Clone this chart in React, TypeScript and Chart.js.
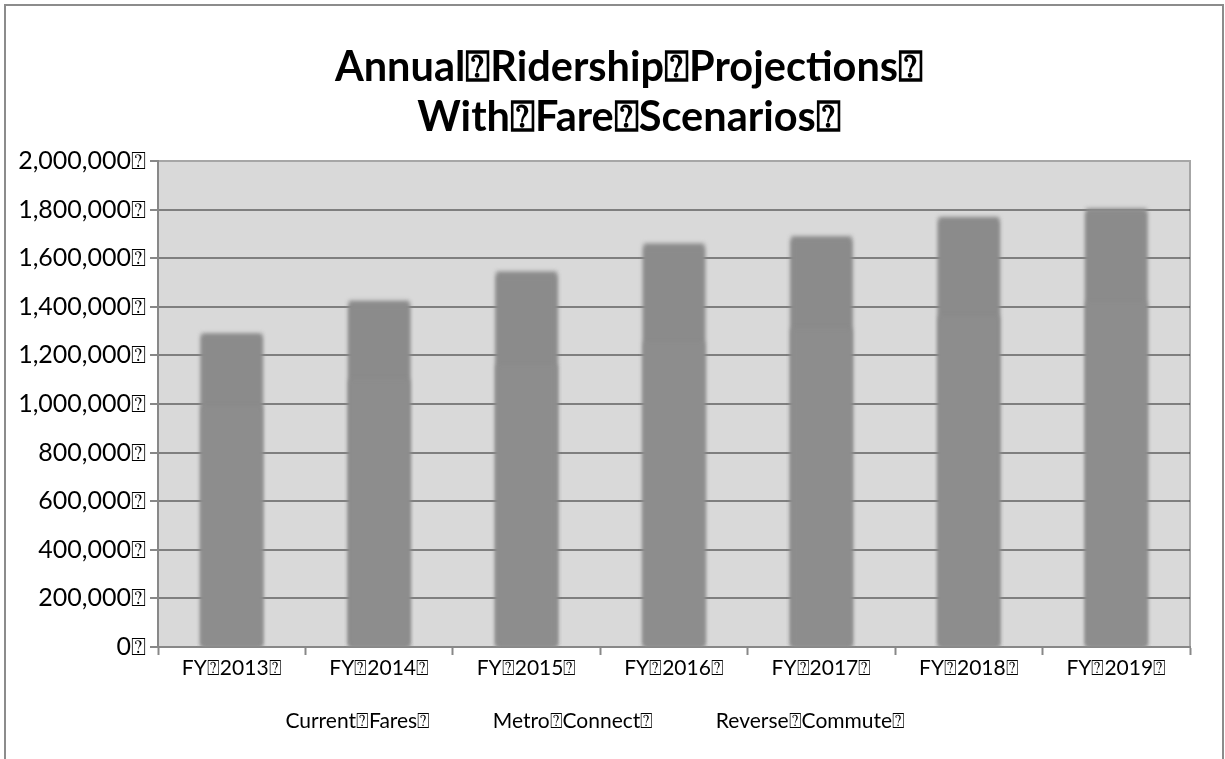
import { useEffect, useRef } from 'react';
import { Chart, registerables } from 'chart.js';

Chart.register(...registerables);

// Fiscal years on the category axis
const years = ['FY 2013', 'FY 2014', 'FY 2015', 'FY 2016', 'FY 2017', 'FY 2018', 'FY 2019'];

// Scenario names (legend order)
const seriesNames = ['Current Fares', 'Metro Connect', 'Reverse Commute'];

// Annual riders per scenario
const currentFares = [990000, 1100000, 1160000, 1255000, 1310000, 1360000, 1420000];
const metroConnect = [1280000, 1410000, 1530000, 1645000, 1675000, 1755000, 1790000];
const reverseCommute = [1290000, 1425000, 1545000, 1660000, 1690000, 1770000, 1805000];

// Value axis
const yMin = 0;
const yMax = 2000000;
const yStep = 200000;

const titleLines = ['Annual Ridership Projections', 'With Fare Scenarios'];

// Missing-glyph box the source document shows in place of spaces and at line ends
const BOX = '\u2370';
const boxed = (s: string) => s.split(' ').join(BOX) + BOX;

const FONT = 'Lato, "Open Sans", "DejaVu Sans", sans-serif';

const plotBackground = {
  id: 'plotBackground',
  afterLayout(chart: any) {
    // title and legend are centred over slightly offset bands
    if (chart.titleBlock) {
      chart.titleBlock.left = 68;
      chart.titleBlock.right = 1190;
    }
    if (chart.legend) {
      chart.legend.left = -34;
      chart.legend.right = 1190;
    }
  },
  beforeDraw(chart: any) {
    const { ctx, chartArea: a } = chart;
    ctx.save();
    ctx.fillStyle = '#d9d9d9';
    ctx.fillRect(a.left, a.top, a.right - a.left, a.bottom - a.top);
    ctx.strokeStyle = '#a6a6a6';
    ctx.lineWidth = 2;
    ctx.strokeRect(a.left, a.top, a.right - a.left, a.bottom - a.top);
    ctx.restore();
  },
};

// Soft edges on the bars
const softBars = {
  id: 'softBars',
  beforeDatasetsDraw(chart: any) {
    chart.ctx.save();
    chart.ctx.filter = 'blur(2px)';
  },
  afterDatasetsDraw(chart: any) {
    chart.ctx.restore();
  },
};

export default function App() {
  const canvasRef = useRef<HTMLCanvasElement | null>(null);

  useEffect(() => {
    document.body.style.margin = '0';
    const canvas = canvasRef.current;
    if (!canvas) return;

    const seriesValues = [currentFares, metroConnect, reverseCommute];
    const shades = ['#8d8d8d', '#8b8b8b', '#8c8c8c'];

    const chart = new Chart(canvas, {
      type: 'bar',
      data: {
        labels: years.map(boxed),
        datasets: seriesNames.map((name, i) => ({
          label: name,
          data: seriesValues[i],
          backgroundColor: shades[i],
          borderWidth: 0,
          grouped: false,
          barPercentage: 0.41,
          categoryPercentage: 1,
        })),
      },
      options: {
        animation: false,
        responsive: false,
        devicePixelRatio: 1,
        layout: { padding: { left: 0, right: 35, top: 0, bottom: 17 } },
        plugins: {
          tooltip: { enabled: false },
          title: {
            display: true,
            text: titleLines.map(boxed),
            color: '#000',
            font: { family: FONT, size: 41.5, weight: 'bold', lineHeight: 1.2 },
            padding: { top: 43, bottom: 18.4 },
          },
          legend: {
            display: true,
            position: 'bottom',
            labels: {
              color: '#000',
              font: { family: FONT, size: 21 },
              boxWidth: 24,
              boxHeight: 14,
              padding: 28,
              generateLabels: (c: any) =>
                c.data.datasets.map((ds: any, i: number) => ({
                  text: boxed(ds.label),
                  fillStyle: 'rgba(0,0,0,0)',
                  strokeStyle: 'rgba(0,0,0,0)',
                  lineWidth: 0,
                  hidden: false,
                  datasetIndex: i,
                  fontColor: '#000',
                })),
            },
          },
        },
        scales: {
          x: {
            z: 1,
            afterFit: (scale: any) => {
              scale.height = 36;
            },
            grid: {
              offset: true,
              drawOnChartArea: false,
              tickLength: 8,
              tickColor: '#888888',
              tickWidth: 2,
            },
            border: { color: '#888888', width: 2 },
            ticks: {
              color: '#000',
              font: { family: FONT, size: 21 },
              padding: 1,
              maxRotation: 0,
              autoSkip: false,
            },
          },
          y: {
            z: 1,
            min: yMin,
            max: yMax,
            afterFit: (scale: any) => {
              scale.width = 158;
            },
            grid: {
              color: (ctx: any) =>
                ctx.tick && ctx.tick.value === yMax ? 'rgba(0,0,0,0)' : 'rgba(0,0,0,0.41)',
              lineWidth: 2,
              tickLength: 8,
              tickColor: '#888888',
              tickWidth: 2,
            },
            border: { color: '#888888', width: 2 },
            ticks: {
              stepSize: yStep,
              color: '#000',
              font: { family: FONT, size: 25 },
              padding: 4,
              callback: (v: any) => Number(v).toLocaleString('en-US') + BOX,
            },
          },
        },
      },
      plugins: [plotBackground, softBars],
    });

    return () => chart.destroy();
  }, []);

  return (
    <div style={{ position: 'relative', width: 1225, height: 759, overflow: 'hidden', background: '#fff' }}>
      <div
        style={{
          position: 'absolute',
          left: 4,
          top: 4,
          width: 1216,
          height: 800,
          border: '2px solid #8c8c8c',
        }}
      />
      <canvas ref={canvasRef} width={1225} height={759} style={{ position: 'absolute', left: 0, top: 0 }} />
    </div>
  );
}
